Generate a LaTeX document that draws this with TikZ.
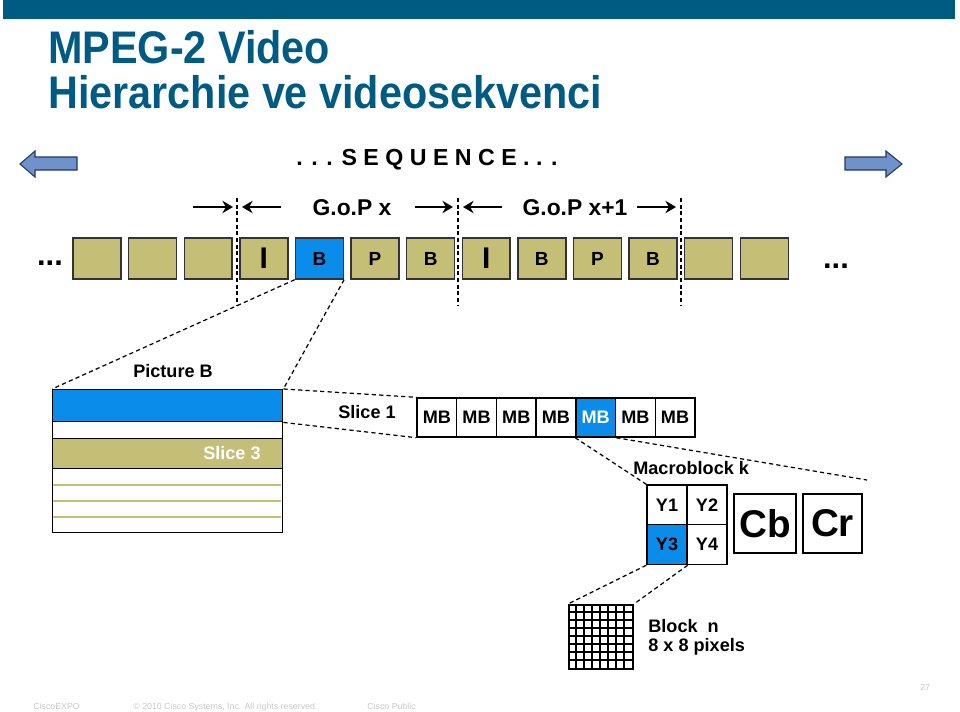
\documentclass[tikz,border=0pt]{standalone}
\usepackage{fontspec}
\setmainfont{Liberation Sans}
\newfontfamily\titlefont[FakeStretch=0.905]{Liberation Sans}
\usetikzlibrary{arrows.meta,positioning,calc}

\definecolor{ciscoblue}{RGB}{0,91,131}
\definecolor{framefill}{RGB}{196,190,118}
\definecolor{selblue}{RGB}{10,140,235}
\definecolor{arrowfill}{RGB}{112,146,202}
\definecolor{arrowline}{RGB}{35,55,100}
\definecolor{footgray}{RGB}{200,200,200}

\newcommand{\Ibar}{{\fontsize{17}{17}\selectfont I}}

\begin{document}
\begin{tikzpicture}[x=0.02cm, y=-0.02cm,
  lbl/.style={font=\fontsize{10.3}{12}\selectfont\bfseries, inner sep=0pt},
  frame/.style={draw=black!80, line width=0.8pt, minimum width=0.96cm, minimum height=0.82cm, inner sep=0pt, font=\fontsize{10.8}{12}\selectfont\bfseries},
  cell/.style={draw, line width=0.8pt, inner sep=0pt, font=\fontsize{10.3}{12}\selectfont\bfseries},
  link/.style={dashed, line width=0.7pt, dash pattern=on 2.4pt off 1.8pt},
  sep/.style={line width=0.6pt, dash pattern=on 2.2pt off 1.6pt},
  gop/.style={-{Stealth[length=6pt, width=7pt]}, line width=1.4pt},
  bigarrow/.style={fill=arrowfill, draw=arrowline, line width=0.6pt},
  titletext/.style={anchor=base west, inner sep=0pt, text=ciscoblue, font=\titlefont\fontsize{26}{28}\selectfont\bfseries},
  foot/.style={font=\fontsize{5}{6}\selectfont, text=footgray, inner sep=0pt}
]
\useasboundingbox (0,0) rectangle (960,711);

% header
\fill[ciscoblue] (3,0) rectangle (955,19);
\node[titletext] (title1) at (48,63) {MPEG-2 Video};
\node[titletext] (title2) at (48,108) {Hierarchie ve videosekvenci};

% sequence
\draw[bigarrow] (20,164) -- (35,151) -- (35,157) -- (77,157) -- (77,170) -- (35,170) -- (35,177) -- cycle;
\draw[bigarrow] (902,164) -- (886,151) -- (886,157) -- (845,157) -- (845,170) -- (886,170) -- (886,177) -- cycle;
\node[inner sep=0pt, font=\fontsize{13.2}{15}\selectfont\bfseries] (seq) at (427,160) {. . . S E Q U E N C E . . .};

% groups of pictures
\coordinate (s0) at (237,207);
\coordinate (s1) at (458,207);
\coordinate (s2) at (681,207);
\foreach \s in {0,1,2} {
  \draw[sep] ([yshift=0.18cm]s\s) -- ([yshift=-1.96cm]s\s);
}
\draw[gop] ([xshift=-0.88cm]s0) -- ([xshift=-0.08cm]s0);
\draw[gop] ([xshift=0.88cm]s0) -- ([xshift=0.1cm]s0);
\draw[gop] ([xshift=-0.86cm]s1) -- ([xshift=-0.1cm]s1);
\draw[gop] ([xshift=0.88cm]s1) -- ([xshift=0.1cm]s1);
\draw[gop] ([xshift=-0.88cm]s2) -- ([xshift=-0.1cm]s2);
\node[inner sep=0pt, font=\fontsize{13}{15}\selectfont\bfseries] (gop1) at (352,208) {G.o.P x};
\node[inner sep=0pt, font=\fontsize{13}{15}\selectfont\bfseries] (gop2) at (575,208) {G.o.P x+1};

% frames
\foreach \i/\lab/\col in {0//framefill,1//framefill,2//framefill,3/\Ibar/framefill,4/B/selblue,5/P/framefill,6/B/framefill,7/\Ibar/framefill,8/B/framefill,9/P/framefill,10/B/framefill,11//framefill,12//framefill}
  \node[frame, fill=\col] (f\i) at ({97+55.6*\i},258.5) {\lab};
\node[anchor=base, inner sep=0pt, font=\fontsize{17.5}{18}\selectfont\bfseries] (dotsL) at (50,265) {...};
\node[anchor=base, inner sep=0pt, font=\fontsize{17.5}{18}\selectfont\bfseries] (dotsR) at (836,268) {...};

% picture
\node[lbl] (piclab) at (173,371) {Picture B};
\node[draw, fill=selblue, line width=0.8pt, minimum width=4.6cm, minimum height=0.64cm, inner sep=0pt, anchor=north west] (slice1) at (52,389) {};
\node[draw, fill=framefill, line width=0.8pt, minimum width=4.6cm, minimum height=0.6cm, inner sep=0pt, anchor=north west] (slice3) at (52,438) {};
\node[lbl, text=white, anchor=east] (s3lab) at (261,453) {Slice 3};
\foreach \yy in {485,501,517}
  \draw[framefill, line width=1pt] (53,\yy) -- (281,\yy);
\node[draw, line width=0.8pt, minimum width=4.6cm, minimum height=2.86cm, inner sep=0pt, anchor=north west] (pic) at (52,389) {};
\draw[link] (f4.south west) -- (pic.north west);
\draw[link] (f4.south east) -- (pic.north east);

% slice
\node[lbl] (s1lab) at (367,412) {Slice 1};
\foreach \i/\col/\tc in {0/white/black,1/white/black,2/white/black,3/white/black,4/selblue/white,5/white/black,6/white/black}
  \node[cell, fill=\col, text=\tc, minimum width=0.794cm, minimum height=0.78cm] (mb\i) at ({436.85+39.7*\i},417.5) {MB};
\draw[link] (slice1.north east) -- (mb0.north west);
\draw[link] (slice1.south east) -- (mb0.south west);

% macroblock
\node[lbl, anchor=west] (mblab) at (633,468) {Macroblock k};
\node[cell, fill=white, minimum size=0.8cm] (y1) at (667,505) {Y1};
\node[cell, fill=white, minimum size=0.8cm] (y2) at (707,505) {Y2};
\node[cell, fill=selblue, minimum size=0.8cm] (y3) at (667,544.5) {Y3};
\node[cell, fill=white, minimum size=0.8cm] (y4) at (707,544.5) {Y4};
\node[cell, minimum width=1.24cm, minimum height=1.18cm, font=\fontsize{22}{23}\selectfont\bfseries] (cb) at (765,523.5) {Cb};
\node[cell, minimum width=1.18cm, minimum height=1.18cm, font=\fontsize{22}{23}\selectfont\bfseries] (cr) at (832.5,523.5) {Cr};
\coordinate (mbend) at (867,480);
\draw[link] (mb4.south west) -- (y1.north west);
\draw[link] (mb4.south east) -- (mbend);

% block
\node[draw, line width=1.1pt, minimum size=1.28cm, inner sep=0pt, anchor=north west] (blk) at (568,604) {};
\foreach \k in {1,...,7} {
  \draw[line width=1.1pt] (568+8*\k,604) -- (568+8*\k,668);
  \draw[line width=1.1pt] (568,604+8*\k) -- (632,604+8*\k);
}
\node[lbl, anchor=base west] (blklab1) at (648,632) {Block\ \ n};
\node[lbl, anchor=base west] (blklab2) at (648,651) {8 x 8 pixels};
\draw[link] (y3.south west) -- (blk.north west);
\draw[link] (y3.south east) -- (blk.north east);

% footer
\node[foot, anchor=base west] (ft1) at (33,709) {CiscoEXPO};
\node[foot, anchor=base west] (ft2) at (133,709) {© 2010 Cisco Systems, Inc. All rights reserved.};
\node[foot, anchor=base west] (ft3) at (367,709) {Cisco Public};
\node[foot, anchor=base west] (ft4) at (920,690) {27};
\end{tikzpicture}
\end{document}
